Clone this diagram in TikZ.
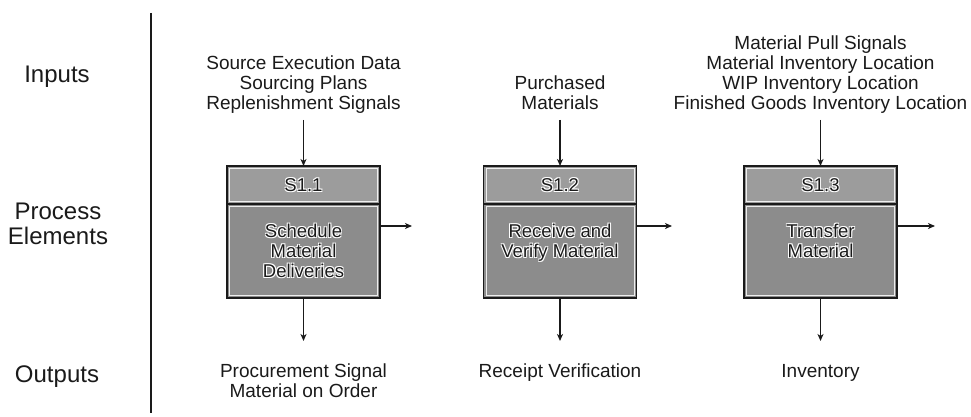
\documentclass[tikz,border=0pt]{standalone}
\usepackage{fontspec}
\setmainfont{Liberation Sans}
\usetikzlibrary{arrows.meta}
\definecolor{hdrfill}{HTML}{9C9C9C}
\definecolor{bodyfill}{HTML}{8C8C8C}
\definecolor{ink}{HTML}{1A1A1A}

% one line of text with a thin white halo behind it
\newcommand{\hl}[1]{%
  \rlap{\textcolor{white}{\kern-0.9pt\raisebox{0.9pt}{#1}}}%
  \rlap{\textcolor{white}{\kern0.9pt\raisebox{0.9pt}{#1}}}%
  \rlap{\textcolor{white}{\kern-0.9pt\raisebox{-0.9pt}{#1}}}%
  \rlap{\textcolor{white}{\kern0.9pt\raisebox{-0.9pt}{#1}}}%
  #1}
% white bevel line just inside a box
\newcommand{\bevel}[1]{%
  \draw[white, line width=0.8pt, opacity=0.85]
    ([shift={(2.4,2.4)}]#1.north west) rectangle ([shift={(-2.4,-2.4)}]#1.south east);
}

\begin{document}
\begin{tikzpicture}[x=1pt, y=-1pt,
  desc/.style={font=\fontsize{19}{20}\selectfont, align=center, inner sep=0pt, text=ink},
  rowlabel/.style={font=\fontsize{24}{24.5}\selectfont, align=center, inner sep=0pt, text=ink},
  boxtext/.style={font=\fontsize{18.5}{20}\selectfont, align=center, inner sep=0pt, text=ink},
  flow/.style={line width=1.2pt, draw=ink, -{Stealth[length=7pt, width=6pt, inset=2pt]}},
  hdrbox/.style={draw=ink, line width=1.4pt, fill=hdrfill, minimum width=153pt,
                 minimum height=38pt, inner sep=0pt, outer sep=0pt},
  bodybox/.style={draw=ink, line width=1.4pt, fill=bodyfill, minimum width=153pt,
                  minimum height=94pt, inner sep=0pt, outer sep=0pt},
]
\useasboundingbox (0,0) rectangle (971,417);

% row titles and divider
\node[rowlabel] (lblin)  at (57,77)  {Inputs};
\node[rowlabel] (lblpe)  at (58,224) {Process\\Elements};
\node[rowlabel] (lblout) at (57,377) {Outputs};
\draw[line width=1.5pt, ink] (151,13) -- (151,413);

% process element boxes
\foreach \i/\x in {1/303.5, 2/560, 3/820.5} {
  \node[hdrbox] (h\i) at (\x,185) {};
  \node[bodybox, anchor=north] (b\i) at (h\i.south) {};
  \bevel{h\i}
  \bevel{b\i}
  \coordinate (tp\i) at ([shift={(0,19)}]b\i.north);
}

\node[boxtext] (id1) at (h1.center) {\hl{S1.1}};
\node[boxtext] (id2) at (h2.center) {\hl{S1.2}};
\node[boxtext] (id3) at (h3.center) {\hl{S1.3}};

\node[boxtext, anchor=north] (t1) at (tp1) {\hl{Schedule}\\\hl{Material}\\\hl{Deliveries}};
\node[boxtext, anchor=north] (t2) at (tp2) {\hl{Receive and}\\\hl{Verify Material}};
\node[boxtext, anchor=north] (t3) at (tp3) {\hl{Transfer}\\\hl{Material}};

% inputs
\node[desc, anchor=south] (in1) at (303.5,116)
  {Source Execution Data\\Sourcing Plans\\Replenishment Signals\strut};
\node[desc, anchor=south] (in2) at (560,116)
  {Purchased\\Materials\strut};
\node[desc, anchor=south] (in3) at (820.5,116)
  {Material Pull Signals\\Material Inventory Location\\WIP Inventory Location\\Finished Goods Inventory Location\strut};

% outputs
\node[desc, anchor=north] (out1) at (303.5,363) {\strut Procurement Signal\\Material on Order};
\node[desc, anchor=north] (out2) at (560,363)   {\strut Receipt Verification};
\node[desc, anchor=north] (out3) at (820.5,363) {\strut Inventory};

% free ends of the outgoing arrows on the right
\coordinate (r1) at (412,226);
\coordinate (r2) at (672,226);
\coordinate (r3) at (935,226);

\foreach \i in {1,2,3} {
  \draw[flow] ([yshift=-4pt]in\i.south) -- (h\i.north);
  \draw[flow] (b\i.south) -- ([yshift=22pt]out\i.north);
  \draw[flow] (b\i.east |- r\i) -- (r\i);
}
\end{tikzpicture}
\end{document}
